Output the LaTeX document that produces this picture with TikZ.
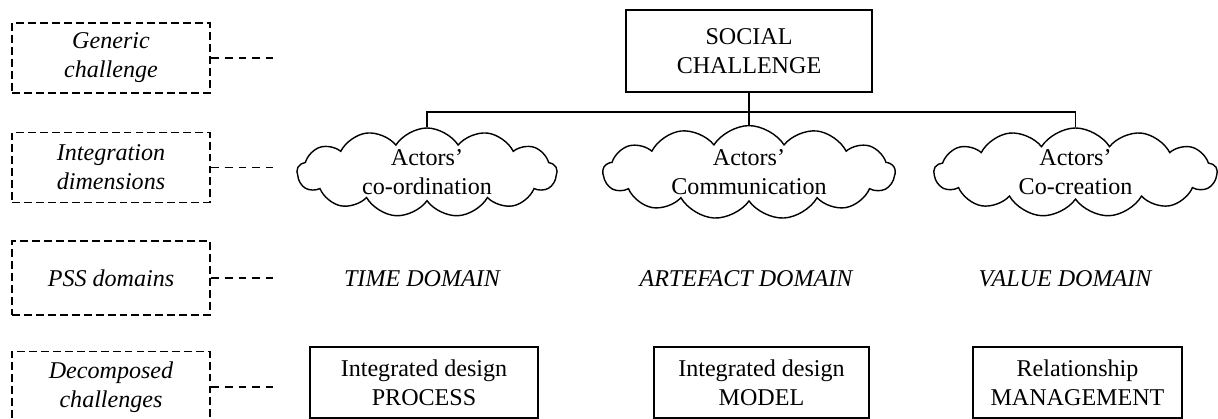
\documentclass[tikz,border=0pt]{standalone}
\usepackage{fontspec}
\setmainfont{Liberation Serif}
\usepackage{tikz}
\usetikzlibrary{positioning,shapes.symbols,calc}

\begin{document}
\begin{tikzpicture}[
    font=\fontsize{13.7}{16.5}\selectfont,
    tag/.style={draw,dash pattern=on 4.5pt off 2.3pt,line width=0.85pt,
                minimum width=3.96cm,minimum height=1.4cm,align=center,
                font=\fontsize{13.7}{16.5}\selectfont\itshape,inner sep=2pt},
    chal/.style={draw,line width=0.7pt,align=center,minimum height=1.42cm},
    actor/.style={draw,cloud,cloud puffs=13,cloud puff arc=115,aspect=2.9,
                  line width=0.8pt,align=center,inner sep=0pt,
                  minimum width=5.2cm,minimum height=1.78cm},
    dom/.style={font=\fontsize{13.7}{16.5}\selectfont\itshape},
    link/.style={line width=0.7pt},
    tagline/.style={line width=0.85pt,dash pattern=on 4.5pt off 3.4pt},
  ]
    \useasboundingbox (0,0) rectangle (24.36,-8.38);
    \node[tag](g1) at (2.22,-1.16){Generic\\challenge};
    \node[tag,below=0.76cm of g1](g2){Integration\\dimensions};
    \node[tag,minimum height=1.48cm,below=0.74cm of g2](g3){PSS domains};
    \node[tag,minimum height=1.42cm,below=0.7cm of g3](g4){Decomposed\\challenges};
    \foreach \i in {1,...,4}{
      \path(g\i.east)++(1.24,0)coordinate(e\i);
      \draw[tagline](g\i.east)--(e\i);
    }
    \node[chal,minimum width=4.92cm,minimum height=1.64cm](soc) at (14.98,-1.02){%
      SOCIAL\\CHALLENGE};
    \node[actor](c1) at (8.54,-3.45){Actors'\\co-ordination};
    \node[actor,aspect=3.28,minimum width=5.84cm](c2) at (14.98,-3.45){%
      Actors'\\Communication};
    \node[actor,aspect=3.18,minimum width=5.66cm](c3) at (21.51,-3.45){%
      Actors'\\Co-creation};
    \node[dom](d1) at (8.44,-5.58){TIME DOMAIN};
    \node[dom](d2) at (14.92,-5.58){ARTEFACT DOMAIN};
    \node[dom](d3) at (21.3,-5.58){VALUE DOMAIN};
    \node[chal,minimum width=4.56cm](p1) at (8.48,-7.65){%
      Integrated design\\PROCESS};
    \node[chal,minimum width=4.3cm](p2) at (15.23,-7.65){%
      Integrated design\\MODEL};
    \node[chal,minimum width=4.18cm](p3) at (21.55,-7.65){%
      Relationship\\MANAGEMENT};
    \coordinate(bus) at (14.98,-2.24);
    \draw[link](soc.south)--(bus)--(c2.north);
    \draw[link](c1.north)|-(bus)-|(c3.north);
  \end{tikzpicture}
\end{document}
